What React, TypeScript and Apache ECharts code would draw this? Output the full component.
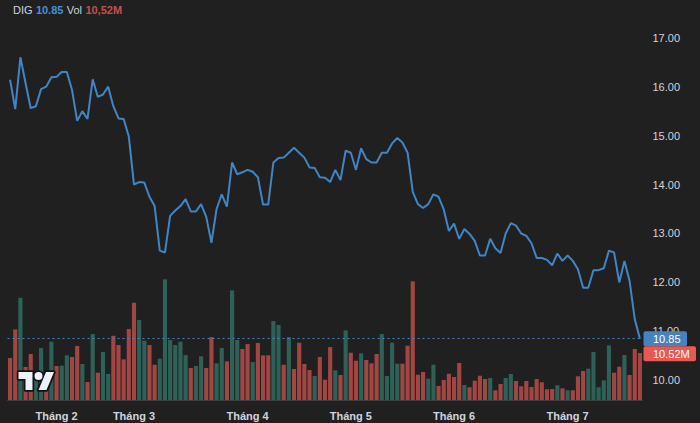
import { useEffect, useRef } from "react";
import * as echarts from "echarts";

const ticker = "DIG";
const monthLabels = ["Tháng 1", "Tháng 2", "Tháng 3", "Tháng 4", "Tháng 5", "Tháng 6", "Tháng 7"];
const tradingDaysPerMonth = [9, 15, 22, 20, 20, 22, 15];

const closePrices = [
  16.14, 15.54, 16.6, 16.07, 15.56, 15.6, 15.95, 16.0, 16.19, 16.2,
  16.3, 16.3, 15.93, 15.3, 15.5, 15.34, 16.15, 15.79, 15.84, 16.0,
  15.6, 15.35, 15.34, 14.98, 14.0, 14.05, 14.04, 13.75, 13.56, 12.65,
  12.61, 13.36, 13.47, 13.56, 13.7, 13.45, 13.45, 13.6, 13.34, 12.81,
  13.5, 13.8, 13.55, 14.45, 14.21, 14.25, 14.3, 14.26, 14.15, 13.59,
  13.59, 14.45, 14.54, 14.55, 14.65, 14.75, 14.65, 14.55, 14.35, 14.34,
  14.15, 14.14, 14.05, 14.3, 14.09, 14.69, 14.65, 14.3, 14.74, 14.52,
  14.45, 14.45, 14.65, 14.65, 14.84, 14.95, 14.86, 14.65, 13.85, 13.6,
  13.52, 13.6, 13.8, 13.75, 13.49, 13.05, 13.2, 12.89, 13.09, 12.99,
  12.85, 12.55, 12.55, 12.89, 12.7, 12.6, 13.0, 13.21, 13.16, 13.0,
  12.95, 12.8, 12.5, 12.5, 12.46, 12.35, 12.59, 12.44, 12.55, 12.44,
  12.27, 11.89, 11.89, 12.25, 12.25, 12.29, 12.65, 12.61, 12.0, 12.44,
  12.03, 11.25, 10.85,
];

const volumesM = [
  9.4, 15.82, 22.9, 7.39, 10.3, 5.6, 11.64, 4.9, 13.05, 7.61,
  7.68, 10.0, 9.62, 12.09, 8.06, 4.03, 14.77, 6.11, 10.74, 5.82,
  14.39, 12.31, 9.11, 15.89, 21.78, 17.91, 13.27, 12.31, 7.9, 9.24,
  27.02, 13.43, 12.31, 13.05, 10.07, 7.16, 7.61, 9.78, 7.16, 14.1,
  8.21, 11.64, 8.66, 24.55, 13.43, 11.42, 12.53, 8.51, 12.76, 10.0,
  10.0, 17.68, 16.79, 7.9, 14.1, 6.94, 12.83, 8.06, 6.71, 5.37,
  9.62, 4.54, 11.86, 6.65, 5.6, 15.6, 10.59, 8.8, 10.45, 8.95,
  8.21, 10.3, 14.77, 5.37, 12.83, 8.13, 8.13, 12.15, 26.57, 5.66,
  6.27, 4.77, 7.9, 3.13, 4.48, 5.89, 5.15, 8.28, 3.36, 2.84,
  4.32, 5.44, 4.7, 4.92, 2.17, 3.58, 4.92, 5.82, 4.25, 3.07,
  4.25, 2.91, 4.7, 3.96, 2.4, 2.46, 3.29, 2.62, 2.17, 2.17,
  5.3, 6.49, 7.01, 10.74, 2.84, 4.41, 12.24, 6.11, 7.45, 10.07,
  5.6, 11.42, 10.52,
];

// u = up day (green volume), d = down day (red volume)
const volumeDirections = (
  "ddudduudud" + "uuddududuu" + "ddddduuddu" + "uuuuuduudd" + "uuduuddudd" +
  "duududdddu" + "dddududdud" + "dduuuudddd" + "duudddddud" + "dddudduudd" +
  "ddddddudud" + "dduuuuuddu" + "ddd"
).split("");

const priceMin = 10;
const priceMax = 17;
const priceInterval = 1;

const FONT = "'Liberation Sans', Arial, sans-serif";
const BG = "#202020";
const LINE = "#4185c5";
const UP = "#2e6259";
const DOWN = "#a24643";
const TEXT = "#d1d4dc";

const LOGO_D =
  "M14 22H7V11H0V4h14v18zM28 22h-8l7.5-18h8L28 22zM24 8a4 4 0 1 1-8 0a4 4 0 1 1 8 0z";

let logoRegistered = false;

export default function App() {
  const ref = useRef<HTMLDivElement>(null);

  useEffect(() => {
    if (!logoRegistered) {
      echarts.graphic.registerShape("logo", echarts.graphic.extendPath(LOGO_D, {}));
      logoRegistered = true;
    }
    const chart = echarts.init(ref.current!, null, { renderer: "svg" });

    const categories: string[] = [];
    const monthStart = new Set<number>();
    tradingDaysPerMonth.forEach((n, m) => {
      for (let k = 0; k < n; k++) {
        if (k === 0 && m > 0) monthStart.add(categories.length);
        categories.push(`${monthLabels[m]}/${k + 1}`);
      }
    });

    const lastPrice = closePrices[closePrices.length - 1];
    const lastVol = volumesM[volumesM.length - 1];

    const gridLeft = 7.5;
    const gridRight = 57.5;

    chart.setOption({
      animation: false,
      backgroundColor: BG,
      grid: [
        { left: gridLeft, right: gridRight, top: 37.7, height: 342.6 },
        { left: gridLeft, right: gridRight, top: 275, height: 125 },
      ],
      xAxis: [
        {
          type: "category",
          gridIndex: 0,
          data: categories,
          boundaryGap: true,
          show: false,
        },
        {
          type: "category",
          gridIndex: 1,
          data: categories,
          boundaryGap: true,
          axisTick: { show: false },
          axisLine: { show: true, lineStyle: { color: "#3d3d3d", width: 1 } },
          axisLabel: {
            interval: (index: number) => monthStart.has(index),
            formatter: (v: string) => v.split("/")[0],
            color: TEXT,
            fontFamily: FONT,
            fontSize: 11,
            fontWeight: "bold",
            margin: 10,
          },
          splitLine: { show: false },
        },
      ],
      yAxis: [
        {
          type: "value",
          gridIndex: 0,
          position: "right",
          min: priceMin,
          max: priceMax,
          interval: priceInterval,
          axisLine: { show: false },
          axisTick: { show: false },
          splitLine: { show: false },
          axisLabel: {
            formatter: (v: number) => v.toFixed(2),
            color: TEXT,
            fontFamily: FONT,
            fontSize: 11,
            margin: 10,
            showMaxLabel: true,
            showMinLabel: true,
          },
        },
        {
          type: "value",
          gridIndex: 1,
          min: 0,
          max: 28,
          show: false,
          splitLine: { show: false },
        },
      ],
      series: [
        {
          type: "bar",
          xAxisIndex: 1,
          yAxisIndex: 1,
          z: 2,
          barCategoryGap: "20%",
          data: volumesM.map((v, i) => ({
            value: v,
            itemStyle: { color: volumeDirections[i] === "u" ? UP : DOWN },
          })),
        },
        {
          type: "line",
          xAxisIndex: 0,
          yAxisIndex: 0,
          z: 5,
          data: closePrices,
          showSymbol: false,
          symbol: "none",
          lineStyle: { color: LINE, width: 2 },
          markLine: {
            silent: true,
            symbol: ["none", "none"],
            label: { show: false },
            lineStyle: { color: LINE, width: 1, type: [2, 3] },
            data: [{ yAxis: lastPrice }],
          },
        },
      ],
      graphic: [
        {
          type: "text",
          left: 13,
          top: 4,
          z: 100,
          style: {
            text:
              `{a|${ticker}} {b|${lastPrice.toFixed(2)}} {a|Vol} {c|${lastVol
                .toFixed(2)
                .replace(".", ",")}M}`,
            rich: {
              a: { fill: TEXT, fontSize: 11, fontFamily: FONT },
              b: { fill: "#4a90d2", fontSize: 11, fontFamily: FONT, fontWeight: "bold" },
              c: { fill: "#c4504c", fontSize: 11, fontFamily: FONT, fontWeight: "bold" },
            },
          },
        },
        {
          type: "logo",
          x: 18.5,
          y: 368,
          z: 100,
          style: { fill: "#111116", stroke: "#111116", lineWidth: 3.5, lineJoin: "round" },
        },
        {
          type: "logo",
          x: 18.5,
          y: 368,
          z: 101,
          style: { fill: "#eef1f7" },
        },
      ],
    });

    const n = categories.length;
    const xa = chart.convertToPixel({ xAxisIndex: 0 }, n - 1) as number;
    const xb = chart.convertToPixel({ xAxisIndex: 0 }, n - 2) as number;
    const edge = xa + (xa - xb) / 2;
    const yP = chart.convertToPixel({ yAxisIndex: 0 }, lastPrice) as number;
    const yV = chart.convertToPixel({ yAxisIndex: 1 }, lastVol) as number;
    const boxH = 15;
    const pTop = yP - boxH / 2;
    const vTop = Math.max(yV - boxH / 2, pTop + boxH);

    chart.setOption({
      graphic: [
        {
          type: "rect",
          id: "pbox",
          z: 110,
          shape: { x: edge + 1, y: pTop, width: 43.5, height: boxH, r: 2 },
          style: { fill: "#4583c0" },
        },
        {
          type: "text",
          id: "ptxt",
          z: 111,
          x: edge + 10.5,
          y: pTop + boxH / 2,
          style: {
            text: lastPrice.toFixed(2),
            fill: "#ffffff",
            fontSize: 11,
            fontFamily: FONT,
            verticalAlign: "middle",
            align: "left",
          },
        },
        {
          type: "rect",
          id: "vbox",
          z: 110,
          shape: { x: edge + 1, y: vTop, width: 52.5, height: boxH, r: 2 },
          style: { fill: "#e85854" },
        },
        {
          type: "text",
          id: "vtxt",
          z: 111,
          x: edge + 10.5,
          y: vTop + boxH / 2,
          style: {
            text: `${lastVol.toFixed(2)}M`,
            fill: "#ffffff",
            fontSize: 11,
            fontFamily: FONT,
            verticalAlign: "middle",
            align: "left",
          },
        },
      ],
    });

    return () => {
      chart.dispose();
    };
  }, []);

  return (
    <div
      ref={ref}
      style={{ position: "fixed", left: 0, top: 0, width: 700, height: 423, background: BG }}
    />
  );
}
